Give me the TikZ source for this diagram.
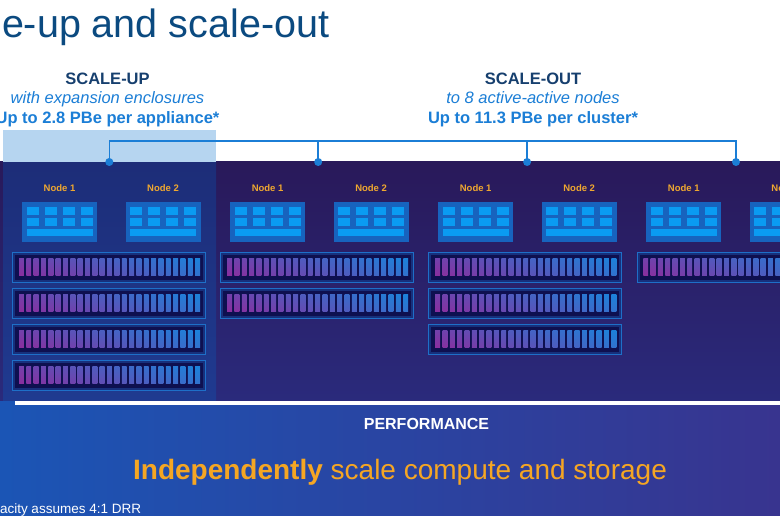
\documentclass[tikz,border=0pt]{standalone}
\usepackage{fontspec}
\setmainfont{Liberation Sans}
\usetikzlibrary{calc}
\definecolor{titleblue}{HTML}{0B4A80}
\definecolor{navy}{HTML}{163F6E}
\definecolor{linkblue}{HTML}{1B7ED6}
\definecolor{paleblue}{HTML}{B6D5F0}
\definecolor{panelA}{HTML}{29195A}
\definecolor{panelB}{HTML}{2A2A7C}
\definecolor{colA}{HTML}{1D2D78}
\definecolor{colB}{HTML}{1F3A90}
\definecolor{botL}{HTML}{1B55B5}
\definecolor{botM}{HTML}{2146A8}
\definecolor{botR}{HTML}{38348F}
\definecolor{gold}{HTML}{F0A830}
\definecolor{boxblue}{HTML}{1763BE}
\definecolor{cellblue}{HTML}{0A9BF2}
\definecolor{encmid}{HTML}{17307C}
\definecolor{encedge}{HTML}{1E6FC8}
\definecolor{encdark}{HTML}{0E1050}
\definecolor{drivepurple}{HTML}{8A2E9E}
\definecolor{driveblue}{HTML}{1C82DA}
\definecolor{tagorange}{HTML}{F5A623}
\tikzset{
  txt/.style={inner sep=0pt, outer sep=0pt},
  bus/.style={draw=linkblue, line width=1.5pt},
  busdot/.style={circle, fill=linkblue, inner sep=0pt, outer sep=0pt, minimum size=8pt},
  nodelbl/.style={txt, text=gold, font=\bfseries\fontsize{9.5}{11}\selectfont},
  srvbox/.style={fill=boxblue, minimum width=75pt, minimum height=40pt, inner sep=0pt, outer sep=0pt},
  cell/.style={fill=cellblue},
  encl/.style={fill=encmid, draw=encedge, line width=0.9pt, minimum width=193pt, minimum height=30pt, inner sep=0pt, outer sep=0pt},
}
\newcommand\cellsof[1]{%
  \foreach \c in {0,1,2,3}{
    \fill[cell] ($(#1.north west)+({4.5+18*\c},5.5)$) rectangle ++(12,7.5);
    \fill[cell] ($(#1.north west)+({4.5+18*\c},16.5)$) rectangle ++(12,7.5);
  }
  \fill[cell] ($(#1.north west)+(4.5,27.5)$) rectangle ++(66,7);
}
\newcommand\drivesof[1]{%
  \fill[encdark] ($(#1.north west)+(2.5,2.5)$) rectangle ($(#1.south east)+(-2.5,-2.5)$);
  \foreach \i in {0,...,24}{
    \pgfmathsetmacro\drvp{100-\i*100/24}
    \colorlet{barc}{drivepurple!\drvp!driveblue}
    \shade[top color=barc!78!driveblue, bottom color=barc!80!drivepurple]
      ($(#1.north west)+({6.3+7.34*\i},6)$) rectangle ++(4.9,17.4);
  }
}
\begin{document}
\begin{tikzpicture}[x=1pt,y=-1pt]
\useasboundingbox (0,0) rectangle (780,516);
\fill[white] (0,0) rectangle (780,516);
% panel backgrounds
\shade[top color=panelA, bottom color=panelB] (0,162) rectangle (780,401);
\shade[top color=colA, bottom color=colB] (3,162) rectangle (216,401);
\fill[paleblue] (3,130) rectangle (216,162);
\shade[left color=botL, middle color=botM, right color=botR] (0,401) rectangle (780,516);
\fill[white] (15,401) rectangle (780,405);

% title and headings
\node[txt, anchor=base west, text=titleblue, font=\fontsize{39.5}{42}\selectfont] (title) at (2,38) {e-up and scale-out};
\node[txt, anchor=base, text=navy, font=\bfseries\fontsize{16.5}{18}\selectfont] (suh) at (107.5,85) {SCALE-UP};
\node[txt, anchor=base, text=linkblue, font=\itshape\fontsize{16.5}{18}\selectfont] (sus) at (107.5,104) {with expansion enclosures};
\node[txt, anchor=base, text=linkblue, font=\bfseries\fontsize{16.5}{18}\selectfont] (suc) at (107.5,124) {Up to 2.8 PBe per appliance*};
\node[txt, anchor=base, text=navy, font=\bfseries\fontsize{16.5}{18}\selectfont] (soh) at (533,85) {SCALE-OUT};
\node[txt, anchor=base, text=linkblue, font=\itshape\fontsize{16.5}{18}\selectfont] (sos) at (533,104) {to 8 active-active nodes};
\node[txt, anchor=base, text=linkblue, font=\bfseries\fontsize{16.5}{18}\selectfont] (soc) at (533,124) {Up to 11.3 PBe per cluster*};

% bus
\foreach \k in {1,2,3,4}{
  \coordinate (bus\k) at ({109.3+(\k-1)*208.9},141);
  \node[busdot] (dot\k) at ({109.3+(\k-1)*208.9},162) {};
}
\draw[bus] (dot1.center) -- (bus1) -- (bus4) -- (dot4.center);
\draw[bus] (dot2.center) -- (bus2);
\draw[bus] (dot3.center) -- (bus3);

% columns of nodes and enclosures
\foreach \k/\n in {0/4,1/2,2/3,3/1}{
  \pgfmathsetmacro\cx{\k*208.1}
  \node[nodelbl] (lbl\k a) at ({59.5+\cx},188) {Node 1};
  \node[nodelbl] (lbl\k b) at ({163+\cx},188) {Node 2};
  \node[srvbox] (srv\k a) at ({59.5+\cx},222) {};
  \node[srvbox] (srv\k b) at ({163+\cx},222) {};
  \cellsof{srv\k a}
  \cellsof{srv\k b}
  \foreach \j in {1,...,\n}{
    \node[encl] (enc\k-\j) at ({109.2+\cx},{267.3+36*(\j-1)}) {};
    \drivesof{enc\k-\j}
  }
}

% bottom texts
\node[txt, anchor=base, text=white, font=\bfseries\fontsize{16}{18}\selectfont] (perf) at (426.5,429) {PERFORMANCE};
\node[txt, anchor=base, text=tagorange, font=\fontsize{28}{31}\selectfont] (tag) at (400,479) {\textbf{Independently} scale compute and storage};
\node[txt, anchor=base west, text=white, font=\fontsize{13.5}{15}\selectfont] (foot) at (0,513) {acity assumes 4:1 DRR};
\end{tikzpicture}
\end{document}
